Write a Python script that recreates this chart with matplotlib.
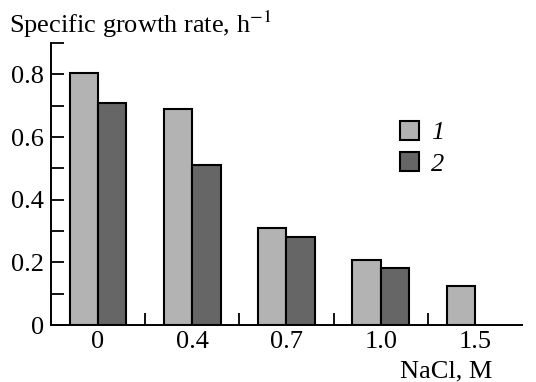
import matplotlib
matplotlib.use("Agg")
import matplotlib.pyplot as plt
from matplotlib.ticker import FixedLocator
import numpy as np

plt.rcParams['font.family'] = ['Liberation Serif', 'DejaVu Serif']
plt.rcParams['mathtext.fontset'] = 'stix'

categories = ["0", "0.4", "0.7", "1.0", "1.5"]
series1 = [0.805, 0.69, 0.31, 0.207, 0.126]
series2 = [0.71, 0.51, 0.28, 0.183, None]
labels = ["1", "2"]
colors = ["#b3b3b3", "#666666"]

FS = 19

fig = plt.figure(figsize=(5.36, 3.82), dpi=100)
ax = fig.add_axes([0.095, 0.149, 0.879, 0.738])

x = np.arange(len(categories))
w = 0.3
s2x = [xi for xi, v in zip(x, series2) if v is not None]
s2v = [v for v in series2 if v is not None]
ax.bar(x - w/2, series1, w, color=colors[0], edgecolor='black', linewidth=1.5, label=labels[0])
ax.bar(np.array(s2x) + w/2, s2v, w, color=colors[1], edgecolor='black', linewidth=1.5, label=labels[1])

ax.set_xlim(-0.5, 4.5)
ax.set_ylim(0, 0.9)
ax.spines['top'].set_visible(False)
ax.spines['right'].set_visible(False)
for s in ['left', 'bottom']:
    ax.spines[s].set_linewidth(1.4)

ax.yaxis.set_major_locator(FixedLocator([0, 0.2, 0.4, 0.6, 0.8]))
ax.yaxis.set_minor_locator(FixedLocator([0.1, 0.3, 0.5, 0.7, 0.9]))
ax.set_yticklabels(["0", "0.2", "0.4", "0.6", "0.8"])
ax.tick_params(axis='y', which='both', direction='in', length=9, width=1.3, labelsize=FS, pad=5)

ax.set_xticks(x)
ax.set_xticklabels(categories)
ax.xaxis.set_minor_locator(FixedLocator([0.5, 1.5, 2.5, 3.5]))
ax.tick_params(axis='x', which='major', length=0, labelsize=FS, pad=4.5)
ax.tick_params(axis='x', which='minor', direction='in', length=9, width=1.3)

fig.text(0.017, 0.914, "Specific growth rate, h$^{-1}$", fontsize=FS, ha='left', va='baseline')
fig.text(0.918, 0.012, "NaCl, M", fontsize=FS, ha='right', va='baseline')

leg = ax.legend(loc='upper left', bbox_to_anchor=(0.741, 0.725), frameon=False,
                prop={'style': 'italic', 'size': FS}, handlelength=0.72, handleheight=0.72,
                handletextpad=0.45, labelspacing=0.3, borderaxespad=0, borderpad=0)

fig.savefig("out.png", dpi=100)
